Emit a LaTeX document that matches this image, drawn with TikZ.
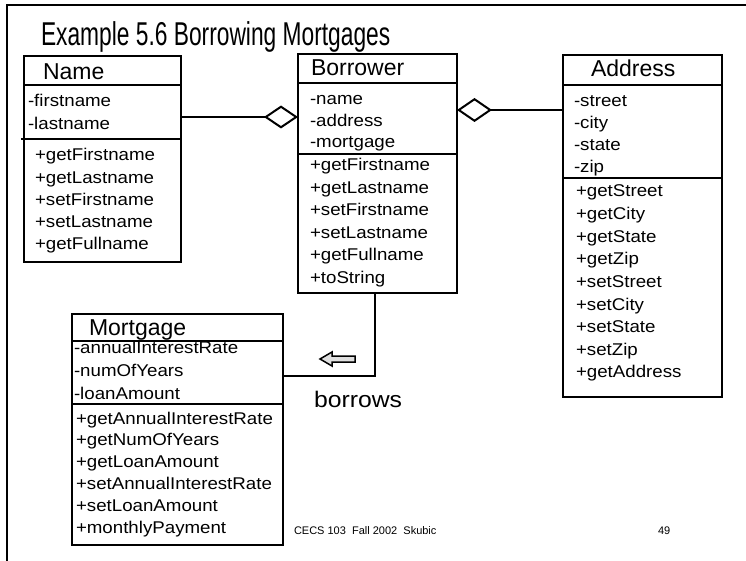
\documentclass[tikz,border=0pt]{standalone}
\usepackage{fontspec}
\setmainfont{Liberation Sans}
\newfontfamily\memberfont[FakeStretch=1.1]{Liberation Sans}
\newfontfamily\titlefont[FakeStretch=0.69]{Liberation Sans}
\usetikzlibrary{positioning}
\usetikzlibrary{arrows.meta}
\tikzset{
	classbox/.style={draw,line width=2pt,anchor=north west,inner sep=0pt,outer sep=0pt},
	classname/.style={anchor=base west,inner sep=0pt,font=\fontsize{23}{26}\selectfont},
	member/.style={anchor=base west,inner sep=0pt,font=\memberfont\fontsize{17}{20}\selectfont},
	every path/.style={line width=2pt},
}

\begin{document}
\begin{tikzpicture}[x=1pt,y=-1pt]
	\useasboundingbox (0,0) rectangle (746,561);
	
	% frame.....................
	\draw [line width=2.5pt] (7,561) -- (7,5) -- (746,5);
	
	% title.....................
	\node [anchor=base west,inner sep=0pt,font=\titlefont\fontsize{33}{36}\selectfont] (title) at (40,46) {Example 5.6 Borrowing Mortgages};
	
	% Name class..................
	\node [classbox,minimum width=157pt,minimum height=206pt] (name) at (24,56) {};
	\draw (name.west |- 0,85) -- (name.east |- 0,85);
	\draw ([xshift=-3pt]name.west |- 0,139) -- (name.east |- 0,139);
	\node [classname] (name-t) at (42,80) {Name};
	\foreach \txt [count=\i from 0] in {-firstname,-lastname}
		\node [member] (name-a\i) at (27,{107+23*\i}) {\txt};
	\foreach \txt [count=\i from 0] in {+getFirstname,+getLastname,+setFirstname,+setLastname,+getFullname}
		\node [member] (name-m\i) at (34,{161+22.2*\i}) {\txt};
	
	% Borrower class..................
	\node [classbox,minimum width=159pt,minimum height=239pt] (borrower) at (298,54) {};
	\draw (borrower.west |- 0,83) -- (borrower.east |- 0,83);
	\draw (borrower.west |- 0,154) -- (borrower.east |- 0,154);
	\node [classname] (borrower-t) at (310,76) {Borrower};
	\foreach \txt [count=\i from 0] in {-name,-address,-mortgage}
		\node [member] (borrower-a\i) at (309,{105+21.5*\i}) {\txt};
	\foreach \txt [count=\i from 0] in {+getFirstname,+getLastname,+setFirstname,+setLastname,+getFullname,+toString}
		\node [member] (borrower-m\i) at (309,{171+22.4*\i}) {\txt};
	
	% Address class..................
	\node [classbox,minimum width=159pt,minimum height=342pt] (address) at (563,55) {};
	\draw (address.west |- 0,85) -- (address.east |- 0,85);
	\draw (address.west |- 0,178) -- (address.east |- 0,178);
	\node [classname] (address-t) at (590,77) {Address};
	\foreach \txt [count=\i from 0] in {-street,-city,-state,-zip}
		\node [member] (address-a\i) at (573,{107+21.7*\i}) {\txt};
	\foreach \txt [count=\i from 0] in {+getStreet,+getCity,+getState,+getZip,+setStreet,+setCity,+setState,+setZip,+getAddress}
		\node [member] (address-m\i) at (575,{197+22.6*\i}) {\txt};
	
	% Mortgage class..................
	\node [classbox,minimum width=211pt,minimum height=231pt] (mortgage) at (72,314) {};
	\draw (mortgage.west |- 0,341) -- (mortgage.east |- 0,341);
	\draw (mortgage.west |- 0,404) -- (mortgage.east |- 0,404);
	\node [classname] (mortgage-t) at (88,335) {Mortgage};
	\foreach \txt [count=\i from 0] in {-annualInterestRate,-numOfYears,-loanAmount}
		\node [member] (mortgage-a\i) at (73,{353+23*\i}) {\txt};
	\foreach \txt [count=\i from 0] in {+getAnnualInterestRate,+getNumOfYears,+getLoanAmount,+setAnnualInterestRate,+setLoanAmount,+monthlyPayment}
		\node [member] (mortgage-m\i) at (75,{424+21.9*\i}) {\txt};
	
	% aggregation Name -- Borrower.............
	\draw [-{Diamond[open,length=34pt,width=23pt,line width=2pt]}] (name.east |- 0,117) -- (borrower.west |- 0,117);
	
	% aggregation Borrower -- Address.............
	\draw [{Diamond[open,length=35pt,width=24pt,line width=2pt]}-] (borrower.east |- 0,110) -- (address.west |- 0,110);
	
	% Borrower -- Mortgage.............
	\draw (borrower.south -| 375,0) |- (mortgage.east |- 0,376);
	\fill [gray!25,draw=black,line width=1.5pt] (355,356) -- (332,356) -- (332,352) -- (320,359) -- (332,366) -- (332,362) -- (355,362) -- cycle;
	\node [anchor=base west,inner sep=0pt,font=\memberfont\fontsize{22.5}{25}\selectfont] (borrows) at (313,407) {borrows};
	
	% footer..............................
	\node [anchor=base west,inner sep=0pt,font=\fontsize{11}{13}\selectfont] (foot) at (293,534) {CECS 103\ \ Fall 2002\ \ Skubic};
	\node [anchor=base west,inner sep=0pt,font=\fontsize{11}{13}\selectfont] (page) at (657,534) {49};
\end{tikzpicture}
\end{document}
